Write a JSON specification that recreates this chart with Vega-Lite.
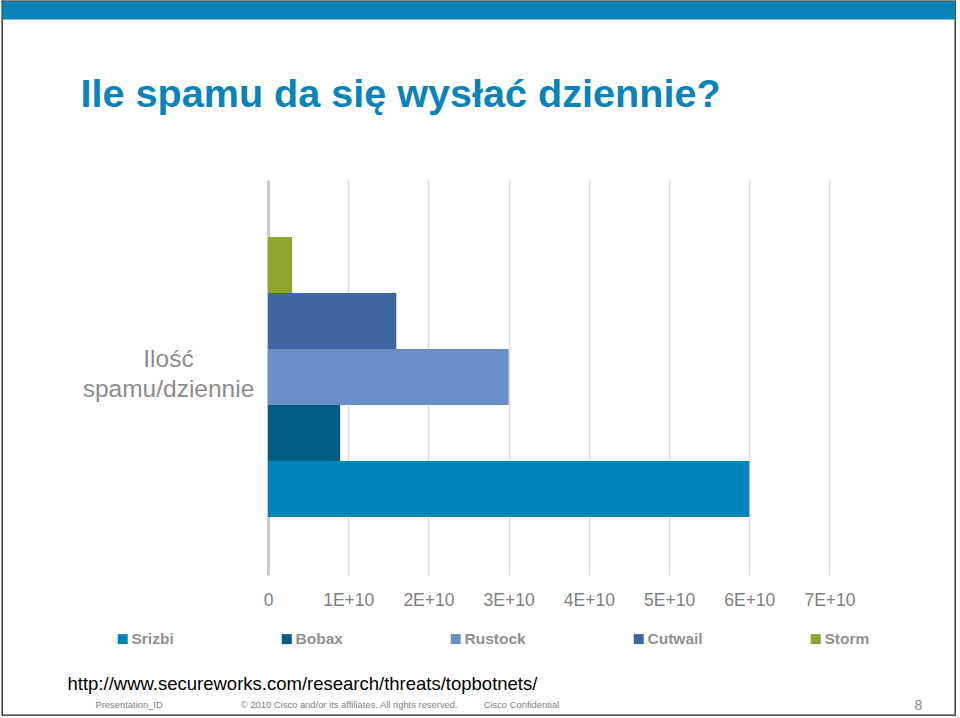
{
  "$schema": "https://vega.github.io/schema/vega-lite/v6.json",
  "width": 953,
  "height": 714,
  "autosize": {"type": "none"},
  "padding": {"left": 2, "top": 1, "right": 5, "bottom": 3},
  "background": "white",
  "config": {
    "view": {"stroke": "#1a1a1a", "strokeWidth": 1.3},
    "font": "Liberation Sans"
  },
  "data": {
    "values": [
      {"kategoria": "Ilość spamu/dziennie", "botnet": "Srizbi", "spam": 60000000000},
      {"kategoria": "Ilość spamu/dziennie", "botnet": "Bobax", "spam": 9000000000},
      {"kategoria": "Ilość spamu/dziennie", "botnet": "Rustock", "spam": 30000000000},
      {"kategoria": "Ilość spamu/dziennie", "botnet": "Cutwail", "spam": 16000000000},
      {"kategoria": "Ilość spamu/dziennie", "botnet": "Storm", "spam": 3000000000}
    ]
  },
  "layer": [
    {
      "mark": {"type": "bar"},
      "encoding": {
        "x": {
          "field": "spam",
          "type": "quantitative",
          "stack": null,
          "scale": {"domain": [-33161175000, 85645600000], "nice": false, "zero": false},
          "axis": {
            "orient": "bottom",
            "offset": -535,
            "values": [0, 10000000000, 20000000000, 30000000000, 40000000000, 50000000000, 60000000000, 70000000000],
            "labelExpr": "datum.value === 0 ? '0' : format(datum.value / 10000000000, 'd') + 'E+10'",
            "grid": false,
            "domain": false,
            "ticks": true,
            "tickSize": 395,
            "tickColor": {"condition": {"test": "datum.value === 0", "value": "#c9c9c9"}, "value": "#dcdcdc"},
            "tickWidth": {"condition": {"test": "datum.value === 0", "value": 3}, "value": 1.5},
            "labelPadding": 16,
            "labelFontSize": 17.5,
            "labelColor": "#7f7f7f",
            "labelFont": "Liberation Sans",
            "labelFlush": false,
            "labelOverlap": false,
            "title": "http://www.secureworks.com/research/threats/topbotnets/",
            "titleX": 65,
            "titleY": 509,
            "titleAlign": "left",
            "titleBaseline": "alphabetic",
            "titleFontSize": 18.5,
            "titleFontWeight": "normal",
            "titleColor": "#000000",
            "titleFont": "Liberation Sans",
            "titleLimit": 2000
          }
        },
        "x2": {"datum": 0},
        "y": {
          "field": "kategoria",
          "type": "nominal",
          "scale": {"paddingInner": 0, "paddingOuter": 0.775, "align": 0.5438},
          "axis": {
            "orient": "left",
            "offset": -266,
            "domain": false,
            "ticks": false,
            "grid": false,
            "labelExpr": "split(datum.label, ' ')",
            "labelAlign": "center",
            "labelBaseline": "middle",
            "labelPadding": 100,
            "labelOffset": -17,
            "labelFontSize": 24.5,
            "labelLineHeight": 29.5,
            "labelColor": "#8c8c8c",
            "labelFont": "Liberation Sans",
            "labelLimit": 400,
            "title": "Presentation_ID\u00a0\u00a0\u00a0\u00a0\u00a0\u00a0\u00a0\u00a0\u00a0\u00a0\u00a0\u00a0\u00a0\u00a0\u00a0\u00a0\u00a0\u00a0\u00a0\u00a0\u00a0\u00a0\u00a0\u00a0\u00a0\u00a0\u00a0\u00a0\u00a0\u00a0© 2010 Cisco and/or its affiliates. All rights reserved.\u00a0\u00a0\u00a0\u00a0\u00a0\u00a0\u00a0\u00a0\u00a0\u00a0Cisco Confidential",
            "titleAngle": 0,
            "titleX": -173,
            "titleY": 706,
            "titleAlign": "left",
            "titleBaseline": "alphabetic",
            "titleFontSize": 9.4,
            "titleFontWeight": "normal",
            "titleColor": "#808080",
            "titleFont": "Liberation Sans",
            "titleLimit": 2000
          }
        },
        "yOffset": {
          "field": "botnet",
          "type": "nominal",
          "sort": ["Storm", "Cutwail", "Rustock", "Bobax", "Srizbi"],
          "scale": {"paddingInner": 0, "paddingOuter": 0}
        },
        "color": {
          "field": "botnet",
          "type": "nominal",
          "scale": {
            "domain": ["Srizbi", "Bobax", "Rustock", "Cutwail", "Storm"],
            "range": ["#0085BA", "#005B82", "#6A8EC6", "#3E66A3", "#8BA52D"]
          },
          "legend": {
            "orient": "none",
            "legendX": 113,
            "legendY": 630,
            "direction": "horizontal",
            "title": null,
            "symbolType": "square",
            "symbolSize": 100,
            "symbolStrokeWidth": 0,
            "symbolOpacity": 1,
            "labelFontSize": 15.5,
            "labelFontWeight": "bold",
            "labelColor": "#909090",
            "labelFont": "Liberation Sans",
            "labelOffset": 1,
            "columnPadding": 105,
            "padding": 0
          }
        }
      }
    },
    {
      "mark": {"type": "bar", "opacity": 0},
      "encoding": {
        "x": {
          "field": "spam",
          "type": "quantitative",
          "stack": null,
          "axis": {
            "orient": "top",
            "offset": -9,
            "domain": true,
            "domainColor": "#0A83B9",
            "domainWidth": 18,
            "ticks": false,
            "labels": false,
            "grid": false,
            "title": "Ile spamu da się wysłać dziennie?",
            "titleX": 78,
            "titleY": 96,
            "titleAlign": "left",
            "titleBaseline": "alphabetic",
            "titleFontSize": 39.6,
            "titleFontWeight": "bold",
            "titleColor": "#0A83B9",
            "titleFont": "Liberation Sans",
            "titleLimit": 2000
          }
        },
        "x2": {"datum": 0},
        "y": {
          "field": "kategoria",
          "type": "nominal",
          "axis": {
            "orient": "right",
            "domain": false,
            "ticks": false,
            "labels": false,
            "grid": false,
            "title": "8",
            "titleAngle": 0,
            "titleX": -41,
            "titleY": 708,
            "titleAlign": "left",
            "titleBaseline": "alphabetic",
            "titleFontSize": 14,
            "titleFontWeight": "normal",
            "titleColor": "#888888",
            "titleFont": "Liberation Sans",
            "titleLimit": 2000
          }
        }
      }
    }
  ],
  "resolve": {"axis": {"x": "independent", "y": "independent"}}
}
